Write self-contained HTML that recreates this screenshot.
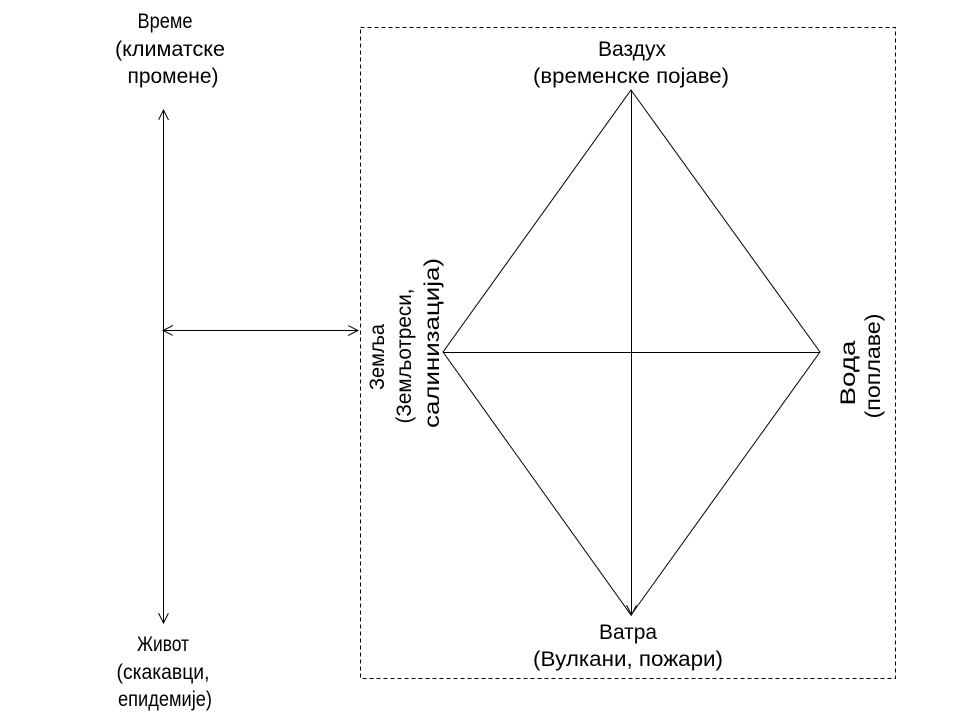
<!DOCTYPE html>
<html><head><meta charset="utf-8"><style>html,body{margin:0;padding:0;background:#fff}svg{display:block}</style></head>
<body>
<svg width="960" height="720" viewBox="0 0 960 720" xmlns="http://www.w3.org/2000/svg" font-family="Liberation Sans, sans-serif" font-size="21" fill="#000">
<defs>
<marker id="a" markerWidth="12" markerHeight="12" refX="10" refY="5" orient="auto-start-reverse" markerUnits="userSpaceOnUse">
<path d="M0,0 L10,5 L0,10" fill="none" stroke="#000" stroke-width="1"/>
</marker>
</defs>
<rect x="360.5" y="27.5" width="535" height="651" fill="none" stroke="#000" stroke-width="1" stroke-dasharray="4,3"/>
<g stroke="#000" stroke-width="1" fill="none">
<line x1="163.5" y1="110" x2="163.5" y2="623" marker-start="url(#a)" marker-end="url(#a)"/>
<line x1="163" y1="330.5" x2="358" y2="330.5" marker-start="url(#a)" marker-end="url(#a)"/>
<polygon points="631,90 820,352 631,615 443,352"/>
<line x1="631.5" y1="90" x2="631.5" y2="615" marker-end="url(#a)"/>
<line x1="443" y1="352.5" x2="820" y2="352.5"/>
</g>
<g text-anchor="middle">
<text x="165" y="28" textLength="55" lengthAdjust="spacingAndGlyphs">Време</text>
<text x="170" y="56" textLength="110" lengthAdjust="spacingAndGlyphs">(климатске</text>
<text x="173" y="83" textLength="91" lengthAdjust="spacingAndGlyphs">промене)</text>
<text x="632" y="56" textLength="68" lengthAdjust="spacingAndGlyphs">Ваздух</text>
<text x="631" y="83" textLength="196" lengthAdjust="spacingAndGlyphs">(временске појаве)</text>
<text x="628" y="639" textLength="58" lengthAdjust="spacingAndGlyphs">Ватра</text>
<text x="628" y="666" textLength="190" lengthAdjust="spacingAndGlyphs">(Вулкани, пожари)</text>
<text x="163" y="651" textLength="52" lengthAdjust="spacingAndGlyphs">Живот</text>
<text x="163" y="679" textLength="93" lengthAdjust="spacingAndGlyphs">(скакавци,</text>
<text x="165" y="706" textLength="94" lengthAdjust="spacingAndGlyphs">епидемије)</text>
<text transform="translate(384,357) rotate(-90)" textLength="66" lengthAdjust="spacingAndGlyphs">Земља</text>
<text transform="translate(411,356) rotate(-90)" textLength="135" lengthAdjust="spacingAndGlyphs">(Земљотреси,</text>
<text transform="translate(439,343) rotate(-90)" textLength="170" lengthAdjust="spacingAndGlyphs">салинизација)</text>
<text transform="translate(855,373) rotate(-90)" textLength="65" lengthAdjust="spacingAndGlyphs">Вода</text>
<text transform="translate(880,366) rotate(-90)" textLength="105" lengthAdjust="spacingAndGlyphs">(поплаве)</text>
</g>
</svg>
</body></html>
